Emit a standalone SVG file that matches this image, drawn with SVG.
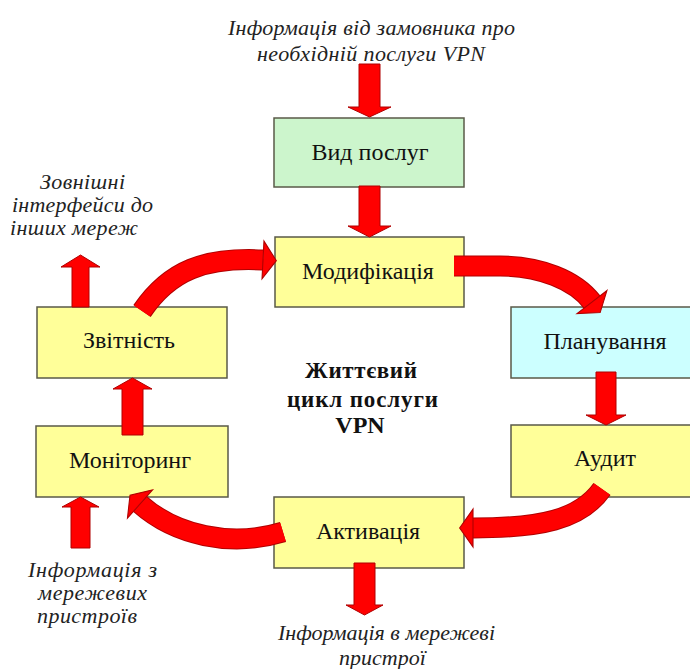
<svg xmlns="http://www.w3.org/2000/svg" width="690" height="669" viewBox="0 0 690 669">
<style>
.box{stroke:#5a5a48;stroke-width:1.5}
.y{fill:#ffff99}
.g{fill:#ccf5cc}
.c{fill:#ccffff}
text{font-family:'Liberation Serif','DejaVu Serif',serif}
.lbl{font-size:24px;fill:#111;text-anchor:middle}
.ttl{font-size:23px;font-weight:bold;fill:#111;text-anchor:middle}
.note{font-size:22px;font-style:italic;fill:#222;text-anchor:middle}
.blk{fill:#ff0000;stroke:#b00000;stroke-width:1}
.cout{fill:none;stroke:#b00000;stroke-width:21}
.cin{fill:none;stroke:#ff0000;stroke-width:19;marker-end:url(#head)}
</style>
<defs>
<marker id="head" markerUnits="userSpaceOnUse" orient="auto" markerWidth="20" markerHeight="40" viewBox="-1 -18 15 36" refX="0" refY="0" overflow="visible">
<path d="M0,-17 L12,0 L0,17 Z" fill="#ff0000" stroke="#b00000" stroke-width="1"/>
</marker>
</defs>
<rect width="690" height="669" fill="#ffffff"/>

<g id="node-vyd">
<rect class="box g" x="274" y="118" width="190" height="69"/>
<text class="lbl" x="370" y="160">Вид послуг</text>
</g>
<g id="node-modyfikatsiia">
<rect class="box y" x="275" y="237" width="189" height="70"/>
<text class="lbl" x="368" y="279">Модифікація</text>
</g>
<g id="node-planuvannia">
<rect class="box c" x="511" y="307" width="190" height="71"/>
<text class="lbl" x="605" y="349">Планування</text>
</g>
<g id="node-audyt">
<rect class="box y" x="511" y="425" width="190" height="72"/>
<text class="lbl" x="605" y="466">Аудит</text>
</g>
<g id="node-aktyvatsiia">
<rect class="box y" x="274" y="497" width="190" height="71"/>
<text class="lbl" x="368" y="539">Активація</text>
</g>
<g id="node-zvitnist">
<rect class="box y" x="37" y="307" width="190" height="71"/>
<text class="lbl" x="129" y="348">Звітність</text>
</g>
<g id="node-monitorynh">
<rect class="box y" x="36" y="426" width="192" height="71"/>
<text class="lbl" x="130" y="468">Моніторинг</text>
</g>

<g id="title">
<text class="ttl" x="361" y="378" textLength="112">Життєвий</text>
<text class="ttl" x="362.5" y="407" textLength="151">цикл послуги</text>
<text class="ttl" x="360" y="433" style="font-size:24px">VPN</text>
</g>

<g id="notes">
<text class="note" x="371.5" y="35" textLength="287">Інформація від замовника про</text>
<text class="note" x="371" y="61" textLength="228">необхідній послуги VPN</text>
<text class="note" x="82.5" y="189" textLength="85">Зовнішні</text>
<text class="note" x="82.5" y="212" textLength="141">інтерфейси до</text>
<text class="note" x="74" y="235" textLength="128">інших мереж</text>
<text class="note" x="92.5" y="577" textLength="129">Інформація з</text>
<text class="note" x="92.5" y="600" textLength="109">мережевих</text>
<text class="note" x="87" y="623" textLength="100">пристроїв</text>
<text class="note" x="386.5" y="640">Інформація в мережеві</text>
<text class="note" x="382.5" y="665">пристрої</text>
</g>

<g id="connectors">
<polygon class="blk" points="359,64 380,64 380,107 391,107 369.5,117 348,107 359,107"/>
<polygon class="blk" points="359,186 380,186 380,226 391,226 369.5,237 348,226 359,226"/>
<polygon class="blk" points="596,372 616,372 616,415 626,415 606,425 586,415 596,415"/>
<polygon class="blk" points="72,307 89,307 89,267 100,267 80.5,255 61,267 72,267"/>
<polygon class="blk" points="122,435 143,435 143,389 152,389 132.5,378 113,389 122,389"/>
<polygon class="blk" points="71,548 90,548 90,507 99,507 80.5,497 62,507 71,507"/>
<polygon class="blk" points="354,563 375,563 375,605 383,605 364.5,615 346,605 354,605"/>

<path class="cout" d="M142,311 C170,270 205,257 263,260"/>
<path class="cin" d="M142,311 C170,270 205,257 263,260"/>
<path class="cout" d="M454,266 L500,266 C540,266 575,280 592,302"/>
<path class="cin" d="M454,266 L500,266 C540,266 575,280 592,302"/>
<path class="cout" d="M602,489 C580,520 540,528 473,528"/>
<path class="cin" d="M602,489 C580,520 540,528 473,528"/>
<path class="cout" d="M283,532 C230,548 175,535 140,504"/>
<path class="cin" d="M283,532 C230,548 175,535 140,504"/>
</g>
</svg>
